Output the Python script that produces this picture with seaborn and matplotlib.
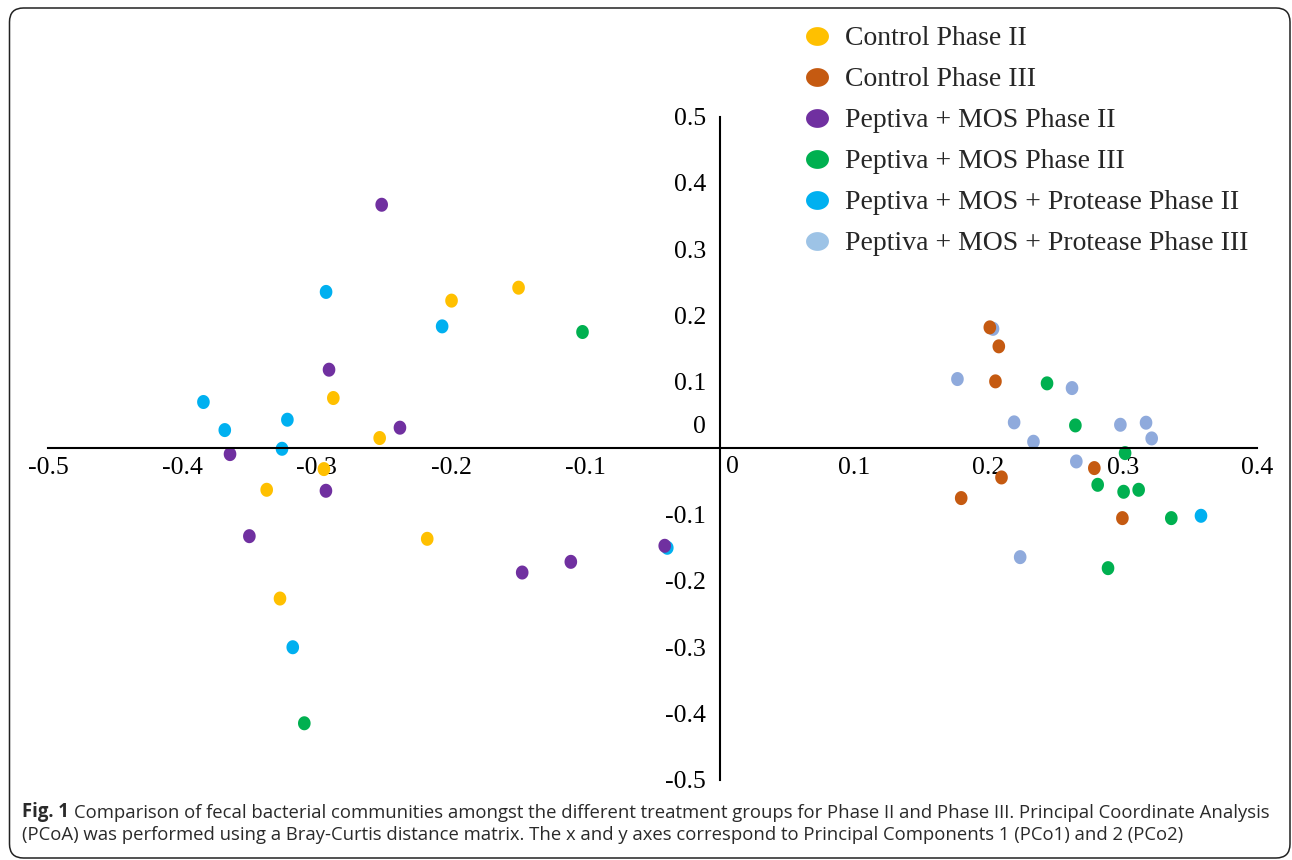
import numpy as np
import pandas as pd
import matplotlib
matplotlib.use("Agg")
import matplotlib.pyplot as plt
import seaborn as sns
from matplotlib.path import Path
from matplotlib.lines import Line2D
from matplotlib.patches import FancyBboxPatch
from matplotlib.transforms import IdentityTransform

# ---------------- data ----------------
groups = ["Control Phase II", "Control Phase III", "Peptiva + MOS Phase II",
          "Peptiva + MOS Phase III", "Peptiva + MOS + Protease Phase II",
          "Peptiva + MOS + Protease Phase III"]
point_colors = ["#FFC000", "#C55A11", "#7030A0", "#00B050", "#00B0F0", "#8FAADC"]
legend_colors = ["#FFC000", "#C55A11", "#7030A0", "#00B050", "#00B0F0", "#9DC3E6"]

ctrl2_x = [-0.1996, -0.1497, -0.2876, -0.2531, -0.2946, -0.3372, -0.2177, -0.3273]
ctrl2_y = [0.2225, 0.2420, 0.0757, 0.0154, -0.0314, -0.0626, -0.1365, -0.2265]
ctrl3_x = [0.2011, 0.2078, 0.2053, 0.2789, 0.2098, 0.1798, 0.2998]
ctrl3_y = [0.1822, 0.1536, 0.1008, -0.0299, -0.0440, -0.0751, -0.1053]
pm2_x = [-0.2516, -0.2908, -0.2380, -0.3645, -0.2931, -0.3501, -0.0409, -0.1108, -0.1470]
pm2_y = [0.3670, 0.1184, 0.0310, -0.0088, -0.0641, -0.1325, -0.1470, -0.1712, -0.1873]
pm3_x = [-0.1021, -0.3092, 0.2437, 0.2648, 0.3018, 0.2814, 0.3007, 0.3119, 0.3362, 0.2891]
pm3_y = [0.1752, -0.4145, 0.0978, 0.0344, -0.0073, -0.0551, -0.0656, -0.0626, -0.1053, -0.1807]
pmp2_x = [-0.0390, -0.2930, -0.2066, -0.3843, -0.3218, -0.3684, -0.3258, -0.3178, 0.3583]
pmp2_y = [-0.1500, 0.2356, 0.1837, 0.0697, 0.0430, 0.0274, -0.0008, -0.2999, -0.1018]
pmp3_x = [0.2035, 0.1770, 0.2623, 0.2192, 0.2983, 0.3174, 0.3216, 0.2336, 0.2655, 0.2237]
pmp3_y = [0.1800, 0.1043, 0.0907, 0.0390, 0.0354, 0.0385, 0.0148, 0.0098, -0.0199, -0.1641]

x_ticks = [-0.5, -0.4, -0.3, -0.2, -0.1, 0.0, 0.1, 0.2, 0.3, 0.4]
y_ticks = [-0.5, -0.4, -0.3, -0.2, -0.1, 0.0, 0.1, 0.2, 0.3, 0.4, 0.5]

caption_bold = "Fig. 1"
caption_line1 = ("Comparison of fecal bacterial communities amongst the different treatment "
                 "groups for Phase II and Phase III. Principal Coordinate Analysis")
caption_line2 = ("(PCoA) was performed using a Bray-Curtis distance matrix. The x and y axes "
                 "correspond to Principal Components 1 (PCo1) and 2 (PCo2)")

# draw order (later groups on top)
draw_order = [5, 4, 0, 1, 2, 3]
series = [(ctrl2_x, ctrl2_y), (ctrl3_x, ctrl3_y), (pm2_x, pm2_y),
          (pm3_x, pm3_y), (pmp2_x, pmp2_y), (pmp3_x, pmp3_y)]
frames = []
for gi in draw_order:
    xs, ys = series[gi]
    frames.append(pd.DataFrame({"PCo1": xs, "PCo2": ys, "group": groups[gi]}))
df = pd.concat(frames, ignore_index=True)

# ---------------- style ----------------
sns.set_theme(style="white")
plt.rcParams["font.family"] = ["Liberation Serif", "DejaVu Serif"]

W, H = 1292, 860
fig = plt.figure(figsize=(W / 100, H / 100), dpi=100)
fig.patch.set_facecolor("white")
ax = fig.add_axes([48 / W, 80 / H, 1209 / W, 663.5 / H])
ax.set_facecolor("none")

t = np.linspace(0, 2 * np.pi, 65)
def ellipse(w, h):
    return Path(np.column_stack([w * np.cos(t), h * np.sin(t)]), closed=True)

pt_marker = ellipse(0.9, 1.0)
sns.scatterplot(data=df, x="PCo1", y="PCo2", hue="group", hue_order=groups,
                palette=dict(zip(groups, point_colors)), marker=pt_marker,
                s=102, linewidth=0, edgecolor="none", legend=False, ax=ax)

ax.set_xlim(-0.5, 0.4)
ax.set_ylim(-0.5, 0.5)
ax.set_xlabel("")
ax.set_ylabel("")

for side in ["top", "right"]:
    ax.spines[side].set_visible(False)
ax.spines["left"].set_position(("data", 0))
ax.spines["bottom"].set_position(("data", 0))
for side in ["left", "bottom"]:
    ax.spines[side].set_linewidth(1.5)
    ax.spines[side].set_color("black")
    ax.spines[side].set_zorder(3)

def fmt(v):
    return "" if abs(v) < 1e-9 else f"{v:.1f}"

ax.set_xticks(x_ticks)
ax.set_xticklabels([fmt(v) for v in x_ticks])
ax.set_yticks(y_ticks)
ax.set_yticklabels([fmt(v) for v in y_ticks])
ax.tick_params(axis="both", length=0, labelsize=18.5, colors="black")
ax.tick_params(axis="x", pad=6.5)
ax.tick_params(axis="y", pad=10)

# the two zero labels are offset from the origin in the original
ax.annotate("0", xy=(0, 0), xytext=(9.5, -5.5), textcoords="offset points",
            ha="center", va="top", fontsize=18.5, color="black")
ax.annotate("0", xy=(0, 0), xytext=(-10, 15), textcoords="offset points",
            ha="right", va="center", fontsize=18.5, color="black")

# legend
handles = [Line2D([], [], linestyle="none", marker=ellipse(1.0, 0.82),
                  markersize=16.5, markerfacecolor=c, markeredgewidth=0)
           for c in legend_colors]
leg = ax.legend(handles, groups, loc="upper left",
                bbox_to_anchor=(803 / W, 1 - 26 / H), bbox_transform=fig.transFigure,
                frameon=False, fontsize=20, handlelength=1.0, handletextpad=0.5,
                borderpad=0, borderaxespad=0, labelspacing=0.56)

# caption
cap_font = ["Open Sans", "DejaVu Sans"]
cap_size = 13.35
cx = 22 / W
cap_color = "#2a2a2a"
tb = fig.text(cx, 1 - 817.5 / H, caption_bold, fontsize=cap_size, fontweight="bold",
              family=cap_font, va="baseline", ha="left", color=cap_color)
fig.canvas.draw()
r = fig.canvas.get_renderer()
bb = tb.get_window_extent(renderer=r)
fig.text((bb.x1 + 5) / W, 1 - 817.5 / H, caption_line1, fontsize=cap_size,
         family=cap_font, va="baseline", ha="left", color=cap_color)
fig.text(cx, 1 - 840.5 / H, caption_line2, fontsize=cap_size,
         family=cap_font, va="baseline", ha="left", color=cap_color)

# rounded frame
frame = FancyBboxPatch((9.5, 2), 1280.5, 850, boxstyle="round,pad=0,rounding_size=14",
                       transform=IdentityTransform(), facecolor="none",
                       edgecolor="#222222", linewidth=1.1)
fig.add_artist(frame)

fig.savefig("out.png", dpi=100)
